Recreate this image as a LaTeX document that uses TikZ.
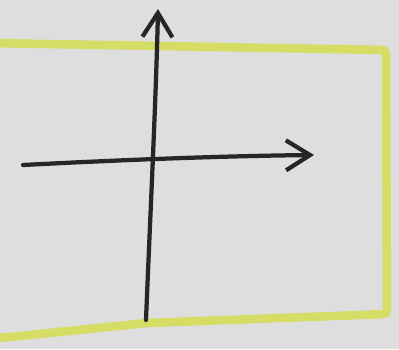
\documentclass[tikz,border=0pt]{standalone}
\usepackage{tikz}
\usetikzlibrary{arrows.meta}

\definecolor{paper}{RGB}{222,222,222}
\definecolor{marker}{RGB}{214,221,100}
\definecolor{pen}{RGB}{38,38,38}

\tikzset{
  axis/.style={pen, line width=0.085cm, line cap=round,
    -{Straight Barb[length=0.48cm, width=0.6cm, line width=0.085cm]}},
  frame/.style={marker, line width=0.17cm, rounded corners=0.08cm}
}

\begin{document}
\begin{tikzpicture}[x=0.02cm, y=-0.02cm]
  \fill[paper] (0,0) rectangle (399,349);
  \useasboundingbox (0,0) rectangle (399,349);
  \clip (0,0) rectangle (399,349);
  % yellow frame, left side runs off the page
  \draw[frame] (-10,43) -- (386,50) -- (387,314) -- (147,323) -- (-10,339);
  % axes
  \coordinate (xstart) at (23,165);
  \coordinate (xend)   at (314,155);
  \coordinate (ystart) at (146,320);
  \coordinate (yend)   at (158,9);
  \draw[axis] (xstart) .. controls (120,160) and (220,156) .. (xend);
  \draw[axis] (ystart) .. controls (150,220) and (156,100) .. (yend);
\end{tikzpicture}
\end{document}
